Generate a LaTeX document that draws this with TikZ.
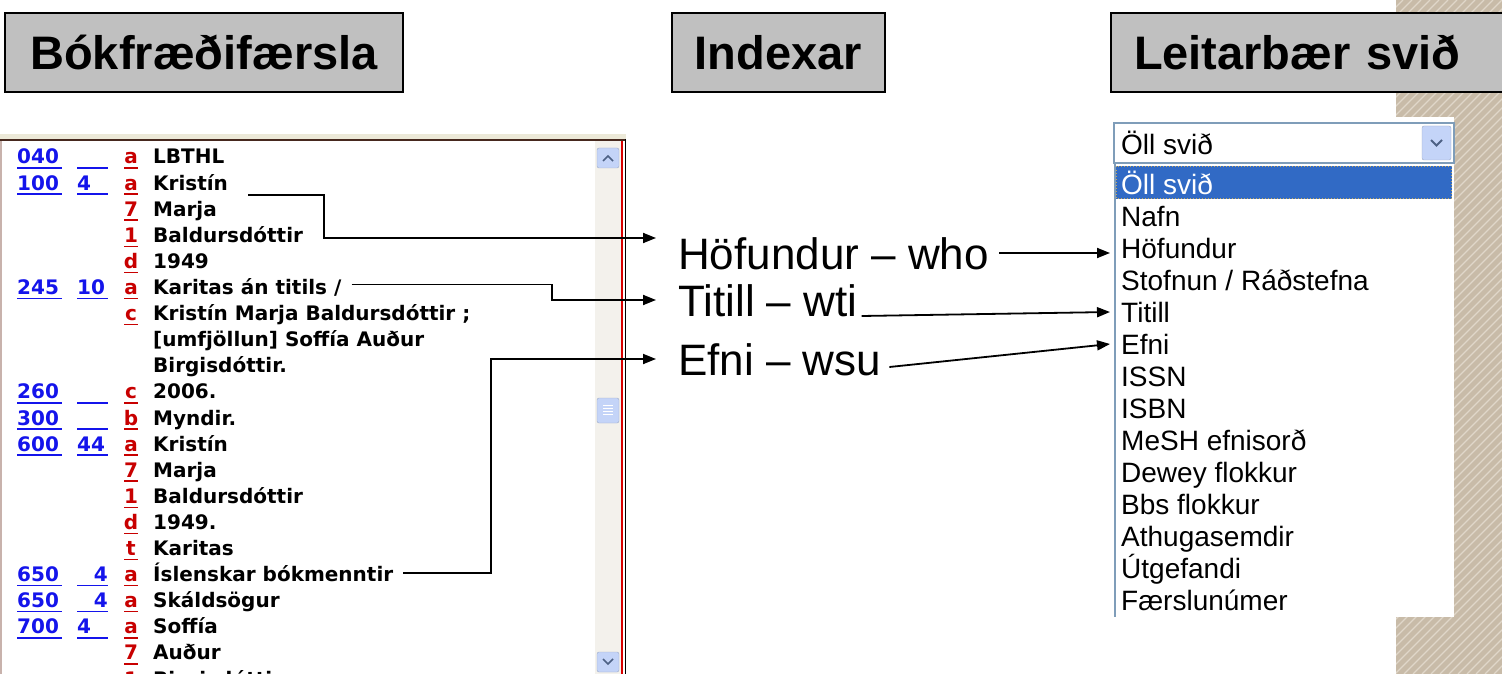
\documentclass[tikz,border=0pt]{standalone}
\usepackage{fontspec}
\setmainfont{Liberation Sans}
\newfontfamily\marcfont{DejaVu Sans}
\usetikzlibrary{arrows.meta}

\definecolor{hdrgray}{RGB}{192,192,192}
\definecolor{tagblue}{RGB}{20,20,235}
\definecolor{subred}{RGB}{200,0,0}
\definecolor{hatchtan}{RGB}{200,187,168}
\definecolor{hatchlight}{RGB}{224,215,201}
\definecolor{xpblue}{RGB}{49,106,197}
\definecolor{xpborder}{RGB}{127,157,185}
\definecolor{scrollbg}{RGB}{243,241,236}
\definecolor{btnblue}{RGB}{196,212,248}
\definecolor{btndark}{RGB}{77,97,133}
\definecolor{panelbrown}{RGB}{70,40,30}
\definecolor{panelshade}{RGB}{236,233,216}
\definecolor{panelleft}{RGB}{200,178,172}
\definecolor{focusdot}{RGB}{200,170,90}

\tikzset{
  hdr/.style={draw=black, line width=2pt, fill=hdrgray, inner sep=0pt, minimum height=79pt,
    text height=34pt, text depth=0pt, font=\bfseries\fontsize{47}{56}\selectfont},
  midlab/.style={anchor=west, inner sep=0pt, text height=32pt, text depth=0pt,
    font=\fontsize{44}{52}\selectfont},
  dditem/.style={anchor=west, inner xsep=11pt, inner ysep=0pt, text height=20pt, text depth=0pt,
    font=\fontsize{28}{32}\selectfont},
  marc/.style={anchor=base west, inner sep=0pt, font=\marcfont\bfseries\fontsize{20}{24}\selectfont},
  tagnum/.style={marc, text=tagblue},
  subcode/.style={marc, anchor=base, text=subred},
  link/.style={line width=1.8pt, -{Triangle[length=13pt,width=10pt]}},
}

\begin{document}
\begin{tikzpicture}[x=1pt, y=-1pt]
	\useasboundingbox (0,0) rectangle (1502,674);
	\fill[white] (0,0) rectangle (1502,674);

	% hatched strip on the right
	\fill[hatchtan] (1396,0) rectangle (1502,674);
	\begin{scope}
		\clip (1396,0) rectangle (1502,674);
		\foreach \s in {720,729,...,1510}
			\draw[hatchlight, line width=1.2pt] (\s,674) -- ++(674,-674);
	\end{scope}

	% headers
	\node[hdr, minimum width=398pt] (hRec) at (204,52.5) {Bókfræðifærsla};
	\node[hdr, minimum width=213pt] (hIdx) at (778.5,52.5) {Indexar};
	\node[hdr, anchor=west, inner xsep=23pt, text width=370pt, align=left] (hFld) at (1110,52.5) {Leitarbær svið};

	% record panel
	\fill[panelshade] (0,134) rectangle (626,139);
	\fill[panelleft] (0,141) rectangle (2,674);
	\fill[scrollbg] (595,141) rectangle (621,674);
	\draw[panelbrown, line width=2pt] (0,140) -- (626,140);
	\draw[red!85!black, line width=2pt] (622,141) -- (622,674);
	\draw[black, line width=1.5pt] (625.5,139) -- (625.5,674);
	\draw[rounded corners=2pt, fill=btnblue, draw=btnblue!80!black] (597,148) rectangle (619,168);
	\draw[btndark, line width=1.6pt] (603,161) -- (608,156) -- (613,161);
	\draw[rounded corners=2pt, fill=btnblue, draw=btnblue!80!black] (597,652) rectangle (619,672);
	\draw[btndark, line width=1.6pt] (603,659) -- (608,664) -- (613,659);
	\draw[rounded corners=2pt, fill=btnblue, draw=btnblue!80!black] (597,398) rectangle (619,423);
	\foreach \g in {405,408,411,414}
		\draw[white, line width=0.8pt] (603,\g) -- (613,\g);

	% record fields
	\foreach \t [count=\k from 0] in {LBTHL, Kristín, Marja, Baldursdóttir, 1949, Karitas án titils /,
		Kristín Marja Baldursdóttir ;, {[umfjöllun] Soffía Auður}, Birgisdóttir., 2006., Myndir.,
		Kristín, Marja, Baldursdóttir, 1949., Karitas, Íslenskar bókmenntir, Skáldsögur, Soffía,
		Auður, Birgisdóttir}
		\node[marc] (t\k) at (153,{164+26.1*\k}) {\t};
	\foreach \c/\k in {a/0, a/1, 7/2, 1/3, d/4, a/5, c/6, c/9, b/10, a/11, 7/12, 1/13, d/14,
		t/15, a/16, a/17, a/18, 7/19, 1/20}{
		\node[subcode] (c\k) at (131,{164+26.1*\k}) {\c};
		\draw[subred, line width=1.5pt] (124,{168+26.1*\k}) -- (138,{168+26.1*\k});
	}
	\foreach \g/\k in {040/0, 100/1, 245/5, 260/9, 300/10, 600/11, 650/16, 650/17, 700/18}{
		\node[tagnum] (g\k) at (17,{164+26.1*\k}) {\g};
		\draw[tagblue, line width=1.5pt] (17,{168+26.1*\k}) -- (62,{168+26.1*\k})
			(77,{168+26.1*\k}) -- (108,{168+26.1*\k});
	}
	\node[tagnum] (i1) at (77,190.1) {4};
	\node[tagnum] (i5) at (77,294.5) {10};
	\node[tagnum] (i11) at (77,451.1) {44};
	\node[tagnum, anchor=base east] (i16) at (108,581.6) {4};
	\node[tagnum, anchor=base east] (i17) at (108,607.7) {4};
	\node[tagnum] (i18) at (77,633.8) {4};

	% indexes
	\node[midlab] (hof) at (678,253) {Höfundur – who};
	\node[midlab] (tit) at (678,300) {Titill – wti};
	\node[midlab] (efn) at (678,359) {Efni – wsu};

	% search field list
	\fill[white] (1100,117) rectangle (1454,617);
	\draw[xpborder, line width=1.5pt, fill=white] (1114,123) rectangle (1454,163);
	\draw[rounded corners=2pt, fill=btnblue, draw=btnblue!80!black] (1422,126) rectangle (1451,160);
	\draw[btndark, line width=2pt] (1431,140) -- (1436.5,145.5) -- (1442,140);
	\node[dditem] (dTop) at (1110,145) {Öll svið};
	\draw[xpborder, line width=2pt] (1115,163) -- (1115,617);
	\fill[xpblue] (1116,166) rectangle (1452,199);
	\draw[focusdot, dotted, line width=1pt] (1116.5,166.5) rectangle (1451.5,198.5);
	\node[dditem, text=white] (d0) at (1110,184) {Öll svið};
	\foreach \t [count=\i] in {Nafn, Höfundur, Stofnun / Ráðstefna, Titill, Efni, ISSN, ISBN,
		MeSH efnisorð, Dewey flokkur, Bbs flokkur, Athugasemdir, Útgefandi, Færslunúmer}
		\node[dditem] (d\i) at (1110,{184+32*\i}) {\t};

	% connectors
	\draw[link] ([shift={(20,5)}]t1.base east) -| ([shift={(-354,-15)}]hof.west) -- ([shift={(-22,-15)}]hof.west);
	\draw[link] ([shift={(10,-10)}]t5.base east) -| ([xshift=-126pt]tit.west) -- ([xshift=-22pt]tit.west);
	\draw[link] ([shift={(10,-9)}]t16.base east) -| ([xshift=-187pt]efn.west) -- ([xshift=-22pt]efn.west);
	\draw[link] ([xshift=10pt]hof.east) -- (hof.east -| d2.west);
	\draw[link] ([shift={(4,16)}]tit.east) -- (d4.west);
	\draw[link] ([shift={(8,8)}]efn.east) -- (d5.west);
\end{tikzpicture}
\end{document}
